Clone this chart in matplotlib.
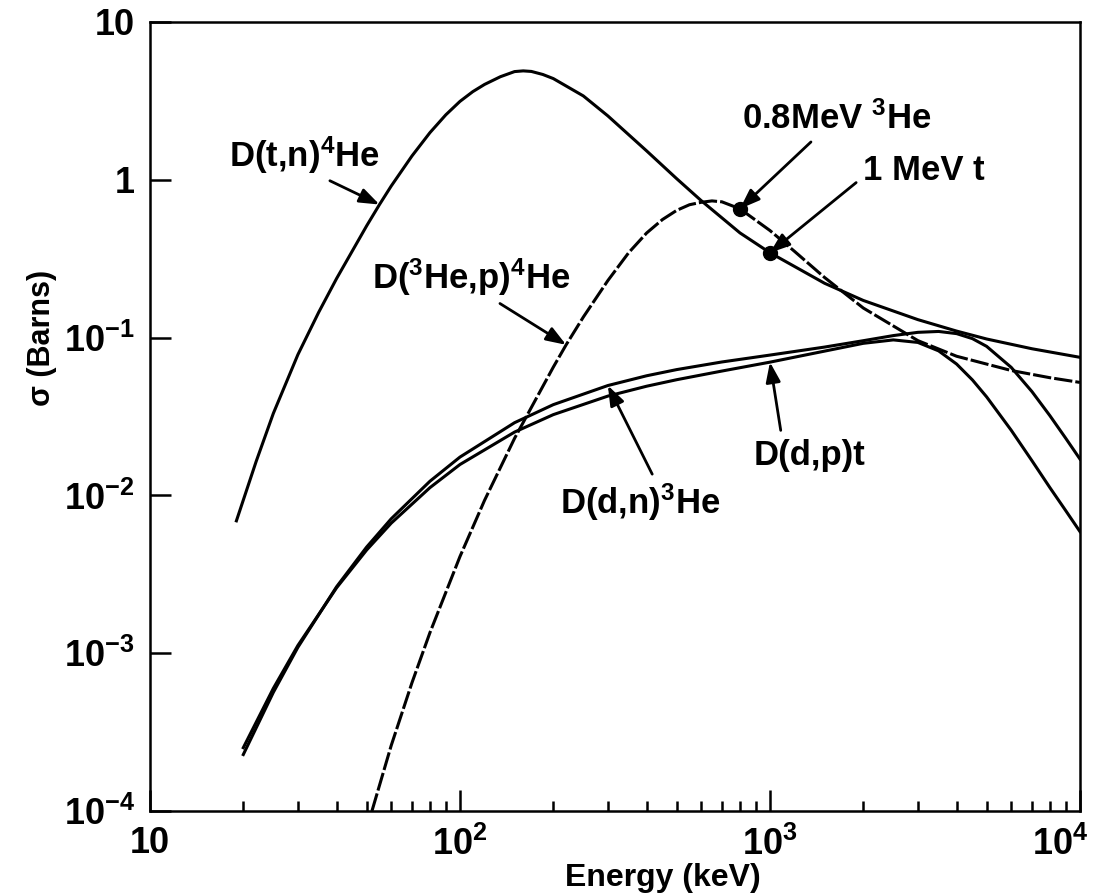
import matplotlib
matplotlib.use("Agg")
from matplotlib import pyplot as plt
from matplotlib import transforms
from matplotlib.ticker import LogLocator, NullLocator, NullFormatter

plt.rcParams['font.family'] = ['Liberation Sans', 'DejaVu Sans']
plt.rcParams['font.weight'] = 'bold'
plt.rcParams['axes.labelweight'] = 'bold'
plt.rcParams['mathtext.default'] = 'regular'

# D(t,n)4He  (triton energy, keV -> cross section, barns)
e_dt = [19, 22, 25, 30, 35, 40, 50, 55, 60, 70, 80, 90, 100, 110, 120, 135,
        150, 160, 170, 185, 200, 250, 300, 400, 500, 600, 800, 1000, 1500,
        2000, 3000, 4000, 5000, 7000, 10000]
s_dt = [0.0069, 0.0164, 0.0331, 0.078, 0.1445, 0.237, 0.511, 0.697, 0.913,
        1.416, 1.99, 2.58, 3.14, 3.62, 4.02, 4.5, 4.85, 4.9, 4.86, 4.65, 4.38,
        3.40, 2.54, 1.525, 1.017, 0.738, 0.461, 0.345, 0.221, 0.172, 0.130,
        0.110, 0.098, 0.085, 0.075]

# D(3He,p)4He  (3He energy)
e_dhe = [52, 60, 70, 80, 100, 120, 150, 200, 220, 250, 300, 350, 400, 450,
         500, 550, 600, 650, 700, 800, 1000, 1200, 1500, 2000, 3000, 4000,
         6000, 8000, 10000]
s_dhe = [1.0e-4, 2.6e-4, 6.5e-4, 1.35e-3, 4.1e-3, 9.3e-3, 0.023, 0.065, 0.09,
         0.135, 0.23, 0.345, 0.46, 0.56, 0.64, 0.695, 0.72, 0.735, 0.725,
         0.655, 0.477, 0.352, 0.2405, 0.154, 0.0957, 0.0762, 0.0619, 0.0557,
         0.052]

# D(d,n)3He and D(d,p)t  (deuteron energy)
e_dd = [20, 25, 30, 40, 50, 60, 80, 100, 150, 200, 300, 400, 500, 700, 1000,
        1500, 2000, 2500, 3000, 3500, 4000, 4500, 5000, 6000, 7000, 8000,
        9000, 10000]
s_ddn = [2.28e-4, 5.65e-4, 1.09e-3, 2.64e-3, 4.71e-3, 7.11e-3, 0.0123, 0.0175,
         0.0289, 0.0376, 0.0497, 0.0573, 0.0627, 0.0701, 0.0775, 0.0871,
         0.0956, 0.103, 0.108, 0.1094, 0.106, 0.0985, 0.088, 0.0648, 0.0455,
         0.032, 0.023, 0.017]
s_ddp = [2.52e-4, 5.99e-4, 1.12e-3, 2.60e-3, 4.51e-3, 6.67e-3, 0.0112, 0.0157,
         0.0252, 0.0325, 0.0426, 0.0492, 0.0541, 0.0614, 0.0699, 0.0821,
         0.0920, 0.0967, 0.0932, 0.0824, 0.0680, 0.0539, 0.0421, 0.0259,
         0.0166, 0.0112, 0.0080, 0.0059]

xticks = [10, 100, 1000, 10000]
xlabels = ['10', '10$^{2}$', '10$^{3}$', '10$^{4}$']
yticks = [1e-4, 1e-3, 1e-2, 1e-1, 1, 10]
ylabels = ['10$^{-4}$', '10$^{-3}$', '10$^{-2}$', '10$^{-1}$', '1', '10']

fig = plt.figure(figsize=(11.02, 8.94), dpi=100)
ax = fig.add_axes([0.1361, 0.0928, 0.8439, 0.8826])
ax.set_xscale('log')
ax.set_yscale('log')

lw = 2.2
ax.plot(e_dt, s_dt, color='k', lw=lw)
ax.plot(e_dhe, s_dhe, color='k', lw=lw, ls=(0, (6, 1)))
ax.plot(e_dd, s_ddn, color='k', lw=lw)
ax.plot(e_dd, s_ddp, color='k', lw=lw)

# product-particle energies marked on the curves
i_he = e_dhe.index(800)
i_t = e_dt.index(1000)
ax.plot(e_dhe[i_he], s_dhe[i_he], 'ko', ms=10)
ax.plot(e_dt[i_t], s_dt[i_t], 'ko', ms=10)

ax.set_xlim(10, 1e4)
ax.set_ylim(1e-4, 10)

ax.set_xticks(xticks)
ax.set_xticklabels(xlabels)
ax.xaxis.set_minor_locator(LogLocator(base=10, subs=range(2, 10), numticks=20))
ax.xaxis.set_minor_formatter(NullFormatter())
ax.set_yticks(yticks)
ax.set_yticklabels(ylabels)
ax.yaxis.set_minor_locator(NullLocator())

ax.tick_params(which='both', direction='in', top=False, right=False,
               width=1.8, labelsize=26, pad=11)
ax.tick_params(which='major', length=15)
ax.tick_params(which='minor', length=7)
for s in ax.spines.values():
    s.set_linewidth(1.8)

# nudge the last x label so it stays inside the figure
last = ax.get_xticklabels()[-1]
last.set_transform(last.get_transform() +
                   transforms.ScaledTranslation(-14 / 72, 0, fig.dpi_scale_trans))

ax.set_xlabel('Energy (keV)', fontsize=23)
ax.xaxis.set_label_coords(0.551, -0.066)
ax.set_ylabel('σ (Barns)', fontsize=22)
ax.yaxis.set_label_coords(-0.100, 0.60)


def arrow(relpos):
    return dict(arrowstyle='-|>,head_length=0.6,head_width=0.22', color='k',
                lw=2, mutation_scale=20, relpos=relpos, shrinkA=4, shrinkB=0)


i = e_dt.index(55)
ax.annotate('D(t,n)$^{4}$He', xy=(e_dt[i], s_dt[i]), xytext=(31.4, 1.44),
            ha='center', va='center', fontsize=25, arrowprops=arrow((0.6, 0)))
i = e_dhe.index(220)
ax.annotate('D($^{3}$He,p)$^{4}$He', xy=(e_dhe[i], s_dhe[i]),
            xytext=(108.5, 0.242), ha='center', va='center', fontsize=25,
            arrowprops=arrow((0.6, 0)))
ax.annotate('0.8MeV $^{3}$He', xy=(e_dhe[i_he], s_dhe[i_he]),
            xytext=(1644, 2.46), ha='center', va='center', fontsize=25,
            arrowprops=arrow((0.4, 0)))
ax.annotate('1 MeV t', xy=(e_dt[i_t], s_dt[i_t]), xytext=(3141, 1.15),
            ha='center', va='center', fontsize=25, arrowprops=arrow((0, 0.3)))
i = e_dd.index(300)
ax.annotate('D(d,n)$^{3}$He', xy=(e_dd[i], s_ddn[i]), xytext=(381, 0.009),
            ha='center', va='center', fontsize=25, arrowprops=arrow((0.6, 1)))
i = e_dd.index(1000)
ax.annotate('D(d,p)t', xy=(e_dd[i], s_ddp[i]), xytext=(1346, 0.018),
            ha='center', va='center', fontsize=25, arrowprops=arrow((0.25, 1)))

fig.savefig('out.png', dpi=100)
